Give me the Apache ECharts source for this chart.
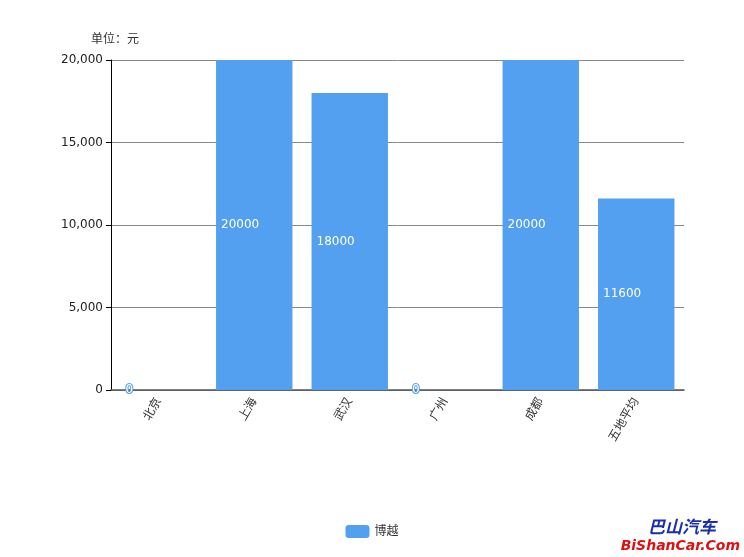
<!DOCTYPE html>
<html><head><meta charset="utf-8">
<script src="https://cdn.jsdelivr.net/npm/echarts@6/dist/echarts.min.js"></script>
<style>html,body{margin:0;padding:0;background:#fff}#c{width:744px;height:557px}</style>
</head><body><div id="c"></div>
<script>
const categories = ['北京', '上海', '武汉', '广州', '成都', '五地平均'];
const values = [0, 20000, 18000, 0, 20000, 11600];
const seriesName = '博越';
const unitLabel = '单位：元';

const chart = echarts.init(document.getElementById('c'));
chart.setOption({
  animation: false,
  textStyle: {fontFamily: '"DejaVu Sans", "Noto Sans CJK SC", sans-serif'},
  title: {text: unitLabel, left: 86, top: 29, textStyle: {fontSize: 12, fontWeight: 'normal', color: '#333'}},
  legend: {bottom: 14, left: 'center', itemWidth: 24, itemHeight: 13, itemGap: 8,
    textStyle: {fontSize: 12, color: '#333'}, data: [seriesName]},
  grid: {left: 111, right: 60, top: 60, bottom: 167, containLabel: false},
  xAxis: {
    type: 'category', data: categories,
    axisLine: {lineStyle: {color: '#555', width: 1.5}},
    axisTick: {show: false},
    axisLabel: {rotate: 60, fontSize: 12, color: '#333', margin: 9}
  },
  yAxis: {
    type: 'value', min: 0, max: 20000, interval: 5000,
    axisLine: {show: true, lineStyle: {color: '#000'}},
    axisTick: {show: true, length: 5, lineStyle: {color: '#000'}},
    axisLabel: {fontSize: 12, color: '#222', margin: 8,
      formatter: v => v.toLocaleString('en-US')},
    splitLine: {lineStyle: {color: '#888'}}
  },
  series: [{
    name: seriesName, type: 'bar', data: values, barCategoryGap: '20%',
    itemStyle: {color: '#539ff0'},
    label: {show: true, position: 'insideLeft', color: '#fff', fontSize: 12,
      textBorderColor: '#539ff0', textBorderWidth: 2}
  }],
  graphic: [
    {type: 'text', right: 28, bottom: 22, style: {text: '巴山汽车', fontSize: 17, fontWeight: 'bold', fontStyle: 'italic', fill: '#1a2fb0', fontFamily: '"Noto Sans CJK SC", sans-serif'}},
    {type: 'text', right: 4, bottom: 4, style: {text: 'BiShanCar.Com', fontSize: 14, fontWeight: 'bold', fontStyle: 'italic', fill: '#e01010', fontFamily: '"DejaVu Sans", sans-serif'}}
  ]
});
</script></body></html>
